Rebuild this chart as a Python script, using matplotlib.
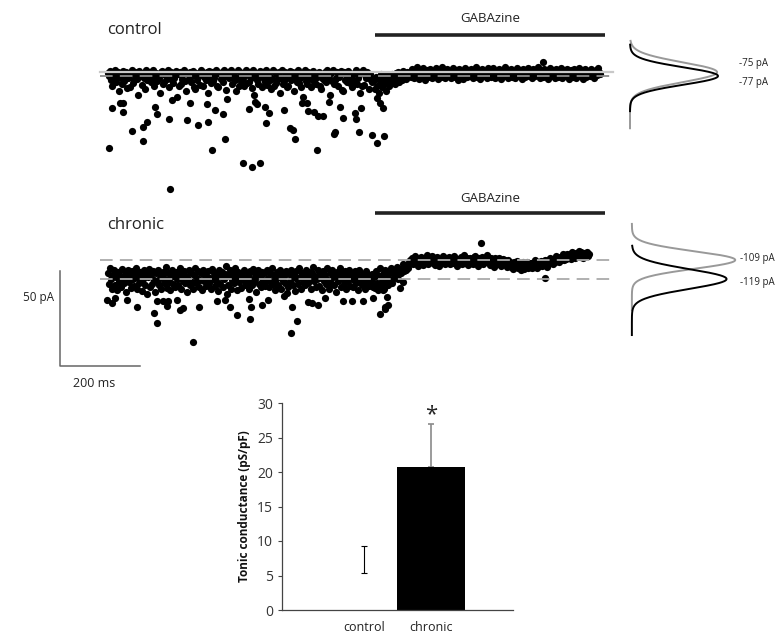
import numpy as np
import matplotlib
matplotlib.use("Agg")
import matplotlib.pyplot as plt

plt.rcParams['font.family'] = ['Open Sans', 'DejaVu Sans']

# sampling of the holding current trace (ms)
dt = 2.5
gaba_on = 667.5
gaba_off = 1242.5

# control cell, holding current (pA), baseline then GABAzine
ctrl_pre = [
    -75.5, -77, -74.5, -79, -82.5, -76, -78.5, -74, -80, -77.5, -75, -85, -76.5, -78, -81, -74.5, -79.5, -77, -75, -83.5,
    -78, -75.5, -83, -76, -74, -80.5, -79, -75, -77.5, -78.5, -87, -74.5, -77, -76, -81.5, -75.5, -78, -84, -74, -79,
    -77, -76.5, -75, -80, -78, -74, -82, -76, -75.5, -79.5, -77, -78, -86, -75, -74.5, -81, -80, -76.5, -75, -78.5,
    -74, -83, -77.5, -75, -79, -80.5, -78, -75.5, -74.5, -88, -76, -82.5, -75, -81, -78.5, -76, -74, -79.5, -85, -75.5,
    -76, -78.5, -75, -80, -77, -74.5, -83, -84, -75.5, -79, -77, -76.5, -81.5, -74, -75, -82, -77.5, -76, -79, -75,
    -86, -74.5, -77, -80.5, -75, -79.5, -78, -76, -74, -82, -83, -75.5, -76, -78.5, -75, -80, -74, -77, -84.5, -89,
    -75, -78, -76.5, -74, -81, -77.5, -75.5, -79, -85, -78, -74, -82.5, -75, -79.5, -76, -78, -82, -75.5, -74, -80.5,
    -76.5, -80, -75, -78, -83.5, -74, -87, -76, -75.5, -79, -81, -77, -74.5, -76, -83, -75, -78.5, -80, -74, -81.5,
    -77, -75.5, -79, -84, -78, -74, -82, -75, -80.5, -76, -78.5, -75, -86, -77.5, -74, -81, -79.5, -75, -78, -83,
    -82, -76, -74.5, -79, -75, -78, -85, -76.5, -75, -80, -74, -80.5, -78, -83, -75.5, -88, -77, -74, -79.5, -81,
    -75, -78.5, -77, -83, -76, -74.5, -80, -78, -81, -77.5, -76, -75, -82.5, -84, -78, -76.5, -79, -75, -80, -74,
    -76, -78, -87, -75.5, -79.5, -74, -81, -79, -78, -75, -82, -77.5, -76, -74.5, -84.5, -85, -75, -79, -76.5, -80,
    -74.5, -77, -80.5, -78, -83, -76, -75.5, -79.5, -74, -81, -78, -76, -86, -75, -82, -74, -81.5, -76.5, -78, -75,
    -77.5, -84, -76, -79, -80, -78.5]
ctrl_post = [
    -79, -84, -77.5, -82, -78, -86, -80.5, -76, -83, -78.5, -81, -77, -85, -79.5, -76.5, -82, -78, -80, -76, -79,
    -77, -81, -75.5, -78.5, -75, -80, -77.5, -76, -79, -74.5, -77, -76, -78.5, -75, -76.5, -77,
    -75, -77.5, -73.5, -76.5, -78, -74, -76, -72.5, -75.5, -78.5, -74.5, -77, -76, -73, -75, -79, -76.5, -74, -77.5, -75,
    -73.5, -76, -78, -74.5, -75.5, -77, -73, -76.5, -78.5, -74, -75, -77.5, -72.5, -76, -74.5, -78, -75.5, -73.5, -77, -76,
    -74.5, -78, -75, -73, -76.5, -77.5, -74, -75.5, -79, -73.5, -76, -77, -74.5, -78.5, -75, -73, -76.5, -77.5, -74, -75.5,
    -77, -73.5, -76, -78, -74.5, -75, -72.5, -77.5, -76, -74, -78.5, -75.5, -73.5, -76.5, -77, -74.5, -75, -78, -73, -76,
    -75.5, -77.5, -74, -73, -76.5, -78, -75, -74.5, -77, -73.5, -76, -78.5, -74, -75.5, -77, -72.5, -76.5, -75, -78, -74,
    -76, -73.5, -77.5, -75, -74.5, -78, -76.5, -73, -75.5, -77, -74, -76, -78.5, -73.5, -75, -77.5, -74.5, -76, -73, -77,
    -74.5, -76.5, -78, -73.5, -75, -77, -74, -76.5, -72.5, -75.5, -78, -74.5, -76, -77.5, -73.5, -75, -76.5, -74, -78.5, -75.5,
    -73, -77, -75.5, -74, -76.5, -78, -73.5, -75, -77.5, -74.5, -76, -73, -78, -75.5, -74, -77, -76, -73.5, -75, -78.5,
    -76.5, -74, -75, -77.5, -73.5, -76, -78, -74.5, -75.5, -73, -77, -76, -74, -78.5, -75, -73.5, -77.5, -76, -74.5, -75,
    -77, -73.5, -76, -74.5, -78, -75.5, -74, -76.5, -73, -75, -76]
# large inward events (ms, pA)
ctrl_evt_t = [3, 155, 9, 37, 59, 87, 97, 88, 123, 153, 198, 224, 250, 287, 293, 260, 30, 38, 118, 159,
              205, 247, 268, 338, 359, 380, 394, 403, 393, 440, 455, 462, 468, 522, 499, 515, 526, 537,
              568, 566, 588, 619, 618, 628, 632, 659, 672, 690, 353, 368, 373, 484, 497, 553, 580,
              672, 680, 688, 1087]
ctrl_evt_i = [-114.7, -136.5, -94, -95.8, -106, -103.7, -101, -111.2, -97, -99.5, -100.3, -103, -101.4,
              -97, -110.3, -116.1, -91, -91, -93.2, -89.6, -91.4, -91.7, -94.9, -123, -124.7, -123,
              -101.6, -96.3, -93.2, -94.9, -104.5, -105.4, -110, -116, -95.3, -95.8, -98, -98, -106.3,
              -107.5, -99.3, -99.8, -96.6, -106.3, -93.7, -108, -112.4, -108.4, -94.5, -90.5, -91.7,
              -91, -91, -90.5, -93.2, -88.6, -91.2, -93.8, -69.5]

# chronic cell
chr_pre = [
    -116, -121.5, -113, -119, -124.5, -117, -114.5, -122, -118, -125, -115.5, -120, -117.5, -123, -113.5, -119.5, -121, -116.5, -126, -118,
    -114, -120.5, -117, -123.5, -115, -119, -122.5, -116, -113, -124, -118.5, -121, -115.5, -117, -125.5, -119, -114, -122, -116.5, -127,
    -118, -113.5, -123, -117, -121.5, -115, -119.5, -126, -116, -120, -114.5, -122, -118.5, -124, -117, -115.5, -121, -119, -112.5, -123.5,
    -116, -120.5, -125, -118, -114, -121.5, -117, -123, -115.5, -119, -122, -116.5, -113, -124.5, -118, -120, -115, -121, -117.5, -126,
    -119, -114.5, -122, -116, -120.5, -124, -117, -113, -121, -118.5, -115, -123, -119.5, -116, -125, -114, -120, -117.5, -122.5, -118,
    -115, -121, -118.5, -124, -113.5, -119, -116, -122.5, -120, -117, -125.5, -114, -121.5, -118, -115.5, -123, -119, -116.5, -112, -127,
    -122, -117.5, -114, -124, -119.5, -116, -121, -113, -118, -125, -115.5, -120.5, -117, -123.5, -116, -119, -114.5, -122, -118.5, -121,
    -117, -124.5, -115, -119, -122, -113.5, -120, -116.5, -126, -118, -114, -121.5, -117, -123, -115.5, -119.5, -116, -122.5, -120, -114,
    -118.5, -123, -116, -120, -113, -121.5, -117, -125, -119, -115.5, -122, -118, -114.5, -124, -116.5, -120, -117.5, -121, -115, -126.5,
    -123, -116.5, -120, -114, -118.5, -122, -117, -125.5, -115, -119, -121.5, -113, -118, -124, -116, -120.5, -117, -122, -114.5, -119,
    -121, -115.5, -118, -124.5, -116, -112.5, -120, -117.5, -123, -119, -114, -122.5, -116, -118.5, -125, -115, -120, -117, -121.5, -113,
    -119.5, -124, -116, -121, -114.5, -118, -122, -117, -126, -115.5, -120, -118.5, -113, -123, -116.5, -119, -121.5, -115, -124, -117.5,
    -120, -114, -122.5, -118, -116, -123, -119.5, -115, -121, -117.5, -125, -114.5, -120, -118, -122, -116.5, -119, -124.5, -115, -121,
    -117, -122.5, -118, -120, -116.5, -123]
chr_post = [
    -118, -123.5, -115, -121, -125, -117.5, -113, -122, -119, -116.5, -124, -114, -120.5, -117, -122, -115.5, -119, -113, -121, -116,
    -118.5, -114, -117, -112.5, -119, -115, -113.5, -116, -114, -111, -115, -112.5, -114, -111.5, -113, -110,
    -109, -110.5, -108, -111, -109.5, -107, -110, -108.5, -112, -109, -110.5, -107.5, -108, -111.5, -109, -110, -108.5, -106.5, -111, -108,
    -110, -109.5, -107, -110.5, -108, -111.5, -109, -107.5, -110, -112, -108.5, -109, -110.5, -107, -109.5, -111, -108, -110, -109, -107.5,
    -111, -109.5, -108, -110.5, -107, -109, -110, -112, -108.5, -109.5, -110, -107.5, -111, -109, -106.5, -110.5, -109, -108, -111.5, -109,
    -108, -110.5, -109, -111, -107.5, -107, -110, -109.5, -112, -108, -110.5, -109, -107.5, -111, -109.5, -110, -108, -106.5, -110, -109,
    -111.5, -108, -110, -109.5, -112.5, -108, -109, -111, -110.5, -108, -109.5, -112, -110, -108.5, -111, -109, -110.5, -112.5, -109, -111,
    -110, -112.5, -111, -113.5, -110, -112, -111.5, -109.5, -113, -110.5, -112, -114, -111, -110, -113.5, -111, -112.5, -110, -113, -111.5,
    -112, -110.5, -113, -111, -112.5, -109, -111.5, -113, -110, -112, -111, -109.5, -112, -110.5, -111, -109, -110, -112.5, -109, -110.5,
    -108, -110.5, -109, -111, -108.5, -110, -107, -109.5, -108, -110, -107.5, -109, -108.5, -106, -109, -107, -108.5, -106, -108, -107.5,
    -106, -108.5, -105, -107, -106.5, -108, -105.5, -107, -106, -104.5, -107.5, -105, -106, -108, -105.5, -107, -106.5, -105, -107, -106]
chr_evt_t = [213, 122, 115, -3, 9, 18, 47, 72, 147, 180, 187, 228, 122, 138, 151, 172, 272, 293, 305, 322,
             355, 357, 353, 458, 472, 459, 384, 401, 441, 501, 509, 524, 543, 588, 609, 638, 663, 680,
             693, 701, 672, 688, 697, 693, 730, 738, 933, 1093]
chr_evt_i = [-152, -142.3, -136.7, -130, -131.8, -129.2, -130, -133.6, -133.2, -135.3, -134.4, -133.6,
             -130.4, -130.4, -130.6, -130, -130.4, -130, -133.6, -138, -140.2, -133.6, -129.7, -147.3,
             -141.1, -133.6, -132.7, -130, -128, -131.3, -131.8, -132.7, -129.2, -130.6, -130.4, -130.4,
             -129.2, -137.4, -135, -132.7, -123, -124.8, -128.3, -133.6, -123.9, -120.4, -99.9, -118.6]

# gaussian fits of the all-points histograms: mean, sd (pA), peak height, drawn range
ctrl_fit = {"gaba": (-75, 5.2, 0.99, -58.5, -104.5), "base": (-77, 4.6, 1.0, -60.5, -95.5)}
chr_fit = {"gaba": (-109, 4.6, 1.19, -90.0, -135.5), "base": (-119, 5.2, 1.09, -101.5, -148.5)}

# tonic conductance summary
groups = ["control", "chronic"]
tonic_mean = [7.3, 20.7]
tonic_sem = [2.0, 6.3]

W, H = 776, 637
fig = plt.figure(figsize=(W / 100, H / 100), dpi=100)


def px_axes(x0, y0, x1, y1):
    return fig.add_axes([x0 / W, 1 - y1 / H, (x1 - x0) / W, (y1 - y0) / H])


def trace(ax, pre, post, ev_t, ev_i, lines, name, name_y, bar_y, gaba_y):
    t_pre = np.arange(len(pre)) * dt
    t_post = t_pre[-1] + dt + np.arange(len(post)) * dt
    for lvl, col, ls in lines:
        if ls == "--":
            ax.plot([-20, 1262], [lvl, lvl], color=col, lw=1.3, dashes=(7, 4), zorder=3)
        else:
            ax.plot([-20, 1262], [lvl, lvl], color=col, lw=1.6, zorder=3)
    ax.plot(t_pre, pre, "o", color="black", ms=5.2, mew=0, zorder=2)
    ax.plot(t_post, post, "o", color="black", ms=5.2, mew=0, zorder=2)
    ax.plot(ev_t, ev_i, "o", color="black", ms=5.2, mew=0, zorder=2)
    ax.plot([gaba_on, gaba_off], [bar_y, bar_y], color="#222222", lw=2.6, solid_capstyle="butt")
    ax.text((gaba_on + gaba_off) / 2, gaba_y, "GABAzine", ha="center", va="center", fontsize=9.5, color="#222222")
    ax.text(-2.5, name_y, name, ha="left", va="center", fontsize=12, color="#222222")
    ax.set_xlim(-170, 1267.5)
    ax.axis("off")


# control trace: -77 pA sits at y=76 px, 1.9 px per pA
ax1 = px_axes(40, 10, 615, 200)
ax1.set_ylim(-77 - 124 / 1.9, -77 + 66 / 1.9)
trace(ax1, ctrl_pre, ctrl_post, ctrl_evt_t, ctrl_evt_i,
      [(-75, "#c8c8c8", "-"), (-77, "#8a8a8a", "--")], "control", -52.8, -55.4, -46.5)

ax2 = px_axes(40, 200, 615, 390)
ax2.set_ylim(-119 - 111 / 1.9, -119 + 79 / 1.9)
trace(ax2, chr_pre, chr_post, chr_evt_t, chr_evt_i,
      [(-109, "#aaaaaa", "--"), (-119, "#aaaaaa", "--")], "chronic", -90.6, -84.3, -76.4)
# scale bars
sb_t, sb_i = -120, -164.8
ax2.plot([sb_t, sb_t, sb_t + 200], [sb_i + 50, sb_i, sb_i], color="#666666", lw=1.1, clip_on=False)
ax2.text(sb_t - 15, sb_i + 36, "50 pA", ha="right", va="center", fontsize=8.5, color="#222222")
ax2.text(sb_t + 85, sb_i - 9, "200 ms", ha="center", va="center", fontsize=9, color="#222222")


def hist(ax, fit, lim, labels):
    ax.set_ylim(lim)
    ax.set_xlim(-10 / 88, 146 / 88)
    for key, col in [("gaba", "#999999"), ("base", "black")]:
        mu, sd, amp, lo, hi = fit[key]
        yy = np.linspace(lo, hi, 300)
        ax.plot(amp * np.exp(-(yy - mu) ** 2 / (2 * sd ** 2)), yy, color=col, lw=1.4)
    for txt, y in labels:
        ax.text(1.24, y, txt, ha="left", va="center", fontsize=7, color="#222222")
    ax.axis("off")


ax3 = px_axes(620, 10, 776, 200)
hist(ax3, ctrl_fit, ax1.get_ylim(), [("-75 pA", -70.2), ("-77 pA", -80.2)])
ax4 = px_axes(622, 200, 776, 390)
hist(ax4, chr_fit, ax2.get_ylim(), [("-109 pA", -108), ("-119 pA", -120.6)])

# bar chart
ax5 = px_axes(282, 403, 513, 610)
x = np.arange(len(groups))
ax5.bar(x, tonic_mean, width=1.0, color=["white", "black"], zorder=2)
ax5.errorbar(x[0], tonic_mean[0], yerr=tonic_sem[0], color="black", lw=0.8, capsize=2.5, capthick=0.8, zorder=3)
ax5.errorbar(x[1], tonic_mean[1], yerr=[[0], [tonic_sem[1]]], color="#8a8a8a", lw=1.2, capsize=2.5, capthick=1.2, zorder=1)
ax5.text(x[1], tonic_mean[1] + tonic_sem[1] + 1.3, "*", ha="center", va="center", fontsize=16, color="#222222")
ax5.set_xlim(-1.22, 2.22)
ax5.set_ylim(0, 30)
ax5.set_yticks(range(0, 31, 5))
ax5.set_xticks(x)
ax5.set_xticklabels(groups, fontsize=9, color="#222222")
ax5.tick_params(axis="x", length=0, pad=8)
ax5.tick_params(axis="y", length=3, labelsize=10, labelcolor="#333333", color="#444444")
ax5.set_ylabel("Tonic conductance (pS/pF)", fontsize=8.5, fontweight="bold", color="#111111")
for s in ["top", "right"]:
    ax5.spines[s].set_visible(False)
for s in ["left", "bottom"]:
    ax5.spines[s].set_color("#444444")
    ax5.spines[s].set_linewidth(0.9)

fig.savefig("out.png", dpi=100)
